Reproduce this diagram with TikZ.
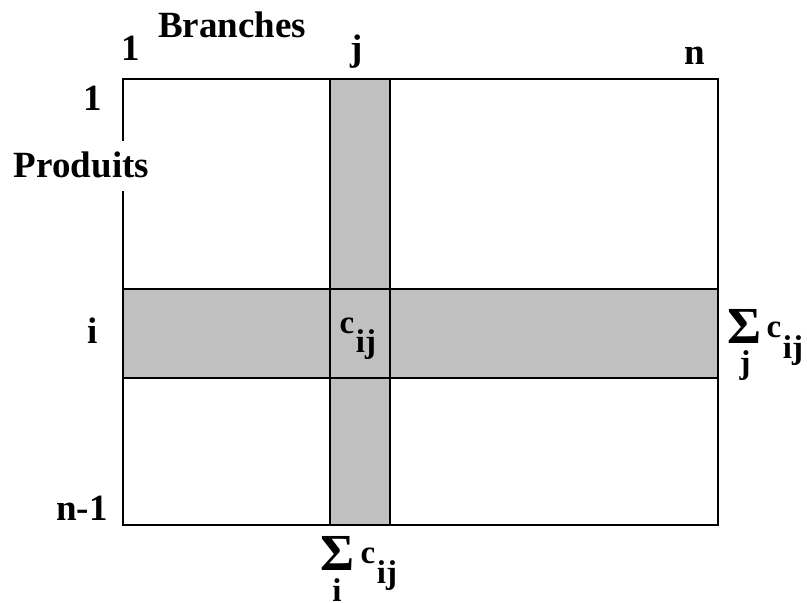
\documentclass[tikz,border=0pt]{standalone}
\usepackage{fontspec}
\setmainfont{Liberation Serif}
\definecolor{bandgray}{HTML}{C0C0C0}
\begin{document}
\begin{tikzpicture}[x=1pt,y=-1pt,
  lbl/.style={font=\fontsize{37}{40}\selectfont\bfseries, inner sep=0pt, anchor=base},
  sml/.style={font=\fontsize{33}{36}\selectfont\bfseries, inner sep=0pt, anchor=base},
  sig/.style={font=\fontsize{52}{54}\selectfont\bfseries, inner sep=0pt, anchor=base},
  grid/.style={line width=2pt, line cap=rect}]
\useasboundingbox[fill=white] (0,0) rectangle (807,603);
% bands
\fill[bandgray] (330,79) rectangle (390,525);
\fill[bandgray] (123,289) rectangle (718,378);
% frame
\draw[grid] (123,140) -- (123,79) -- (718,79) -- (718,525) -- (123,525) -- (123,192);
\draw[grid] (330,79) -- (330,525);
\draw[grid] (390,79) -- (390,525);
\draw[grid] (123,289) -- (718,289);
\draw[grid] (123,378) -- (718,378);
% top labels
\node[lbl] (branches) at (232,37) {Branches};
\node[lbl] (c1) at (131,60) {1};
\node[lbl] (cj) at (357,60) {j};
\node[lbl] (cn) at (695,64) {n};
% left labels
\node[lbl] (r1) at (93,110) {1};
\node[lbl] (produits) at (81.5,177) {Produits};
\node[lbl] (ri) at (93,343) {i};
\node[lbl] (rn1) at (82,520) {n-1};
% center cell
\node[sml] (cc) at (347,333) {c};
\node[sml] (cij) at (366,352) {ij};
% row sum
\node[sig] (rsig) at (744,343) {Σ};
\node[sml] (rj) at (745,373) {j};
\node[sml] (rc) at (774,337) {c};
\node[sml] (rij) at (793,358) {ij};
% column sum
\node[sig] (csig) at (337,570) {Σ};
\node[sml] (ci) at (337,601) {i};
\node[sml] (ccc) at (368,563) {c};
\node[sml] (cij2) at (387,583) {ij};
\end{tikzpicture}
\end{document}
